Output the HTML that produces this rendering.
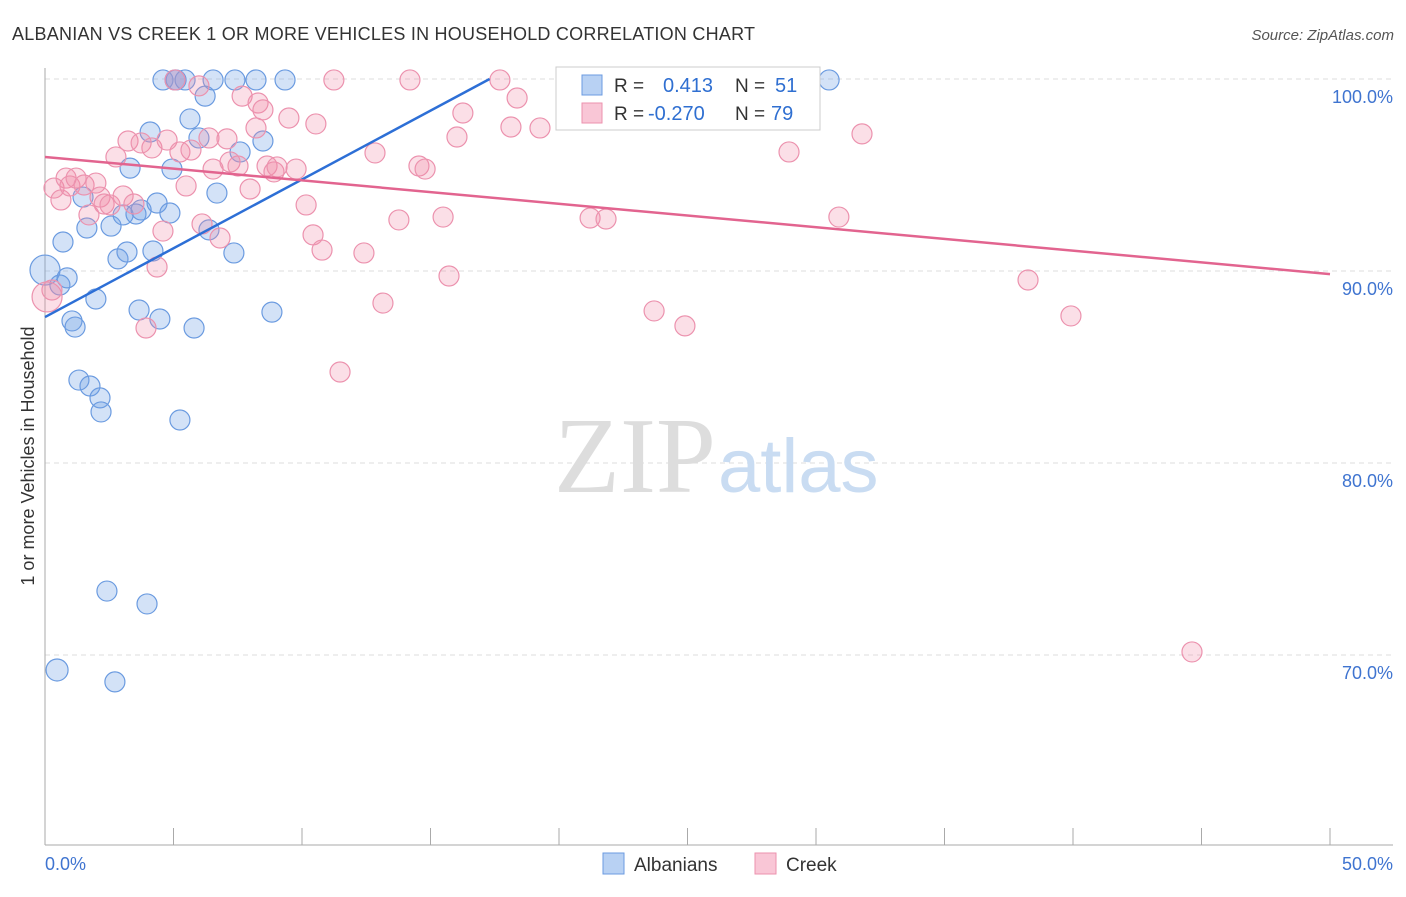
<!DOCTYPE html>
<html><head><meta charset="utf-8"><style>
body{margin:0;background:#fff;font-family:"Liberation Sans",sans-serif}
</style></head><body>
<svg id="c" width="1406" height="892" xmlns="http://www.w3.org/2000/svg" style="font-family:'Liberation Sans',sans-serif">
<text x="12" y="40" font-size="18" fill="#333" textLength="743">ALBANIAN VS CREEK 1 OR MORE VEHICLES IN HOUSEHOLD CORRELATION CHART</text>
<text x="1394" y="40" font-size="15" fill="#555" text-anchor="end" font-style="italic">Source: ZipAtlas.com</text>
<text x="34" y="456" font-size="18" fill="#333" text-anchor="middle" transform="rotate(-90 34 456)">1 or more Vehicles in Household</text>
<g id="grid"></g>
<text x="716" y="492" font-size="108" fill="#ddd" font-family="Liberation Serif" text-anchor="end">ZIP</text>
<text x="718" y="492" font-size="76" fill="#c9dcf2">atlas</text>
<g id="pts"></g><g id="lines"></g>
<g>
<rect x="556" y="67" width="264" height="63" fill="#fff" stroke="#ccc"/>
<rect x="582" y="75" width="20" height="20" fill="#b8d1f3" stroke="#6b9be0"/>
<rect x="582" y="103" width="20" height="20" fill="#f9c6d6" stroke="#ec92ae"/>
<text x="614" y="92" font-size="19" fill="#333">R = </text><text x="663" y="92" font-size="20" fill="#2f6fd1">0.413</text>
<text x="735" y="92" font-size="19" fill="#333">N = </text><text x="775" y="92" font-size="20" fill="#2f6fd1">51</text>
<text x="614" y="120" font-size="19" fill="#333">R = </text><text x="648" y="120" font-size="20" fill="#2f6fd1">-0.270</text>
<text x="735" y="120" font-size="19" fill="#333">N = </text><text x="771" y="120" font-size="20" fill="#2f6fd1">79</text>
</g>
<g>
<rect x="603" y="853" width="21" height="21" fill="#b8d1f3" stroke="#6b9be0"/>
<text x="634" y="871" font-size="19" fill="#333">Albanians</text>
<rect x="755" y="853" width="21" height="21" fill="#f9c6d6" stroke="#ec92ae"/>
<text x="786" y="871" font-size="19" fill="#333">Creek</text>
</g>
</svg>
<script>
const yTicks=[100,90,80,70];
const yTickLabels=["100.0%","90.0%","80.0%","70.0%"];
const xTicks=[0,5,10,15,20,25,30,35,40,45,50];
const blueX=[0,0.47,0.58,0.86,0.70,1.05,1.17,1.32,1.48,1.63,1.75,1.98,2.14,2.18,2.41,2.57,2.72,2.84,3.04,3.19,3.31,3.54,3.66,3.74,3.97,4.09,4.20,4.36,4.47,4.59,4.86,4.94,5.10,5.25,5.45,5.64,5.80,5.99,6.23,6.38,6.54,6.69,7.35,7.39,7.59,8.21,8.48,8.83,9.34,30.51,5.06];
const blueY=[90.05,69.22,89.27,89.64,91.51,87.40,87.08,84.32,93.85,92.24,84.01,88.54,83.39,82.66,73.33,92.34,68.60,90.63,92.92,90.99,95.36,92.97,87.97,93.18,72.66,97.24,91.04,93.54,87.50,99.95,93.02,95.31,99.95,82.24,99.95,97.92,87.03,96.93,99.11,92.14,99.95,94.06,90.94,99.95,96.20,99.95,96.77,87.86,99.95,99.95,99.95];
const pinkX=[0.08,0.27,0.35,0.62,0.82,0.97,1.21,1.52,1.71,1.98,2.14,2.30,2.53,2.76,3.04,3.23,3.46,3.74,3.93,4.16,4.36,4.59,4.75,5.06,5.25,5.49,5.68,5.99,6.11,6.38,6.54,6.81,7.08,7.20,7.51,7.67,7.98,8.21,8.29,8.48,8.64,8.91,9.03,9.49,9.77,10.16,10.43,10.54,10.78,11.24,11.48,12.41,12.84,13.15,13.77,14.20,14.55,14.79,15.49,15.72,16.03,16.26,17.70,18.13,18.37,19.26,20.39,21.21,21.83,22.26,23.27,23.70,24.90,28.95,30.89,31.79,38.25,39.92,44.63];
const pinkY=[88.65,89.01,94.32,93.70,94.84,94.43,94.84,94.48,92.92,94.58,93.85,93.49,93.44,95.94,93.91,96.77,93.49,96.67,87.03,96.41,90.21,92.08,96.82,99.95,96.20,94.43,96.30,99.64,92.45,96.93,95.31,91.72,96.88,95.68,95.47,99.11,94.27,97.45,98.75,98.39,95.47,95.16,95.42,97.97,95.31,93.44,91.88,97.66,91.09,99.95,84.74,90.94,96.15,88.33,92.66,99.95,95.47,95.31,92.81,89.74,96.98,98.23,99.95,97.50,99.01,97.45,99.06,92.76,92.71,99.95,98.91,87.92,87.14,96.20,92.81,97.14,89.53,87.66,70.16];
const blueTrend=[[0,87.6],[17.3,100]];
const pinkTrend=[[0,95.94],[50,89.84]];
const NS="http://www.w3.org/2000/svg";
const X=v=>45+v/50*1285, Y=v=>79+(100-v)*19.2;
function mk(t,a,p){const e=document.createElementNS(NS,t);for(const k in a)e.setAttribute(k,a[k]);p.appendChild(e);return e;}
const g=document.getElementById('grid');
yTicks.forEach((t,i)=>{
 const l=mk('line',{x1:45,x2:1393,y1:Y(t),y2:Y(t),stroke:'#ddd','stroke-dasharray':'5,4'},g);
 
 
 const tx=mk('text',{x:1393,y:Y(t)+24,'font-size':18,fill:'#3f74d0','text-anchor':'end'},g);
 tx.textContent=yTickLabels[i];
 
 
});
const ax=mk('line',{x1:45,x2:45,y1:68,y2:845,stroke:'#aaa'},g);


const bx=mk('line',{x1:45,x2:1393,y1:845,y2:845,stroke:'#aaa'},g);


xTicks.forEach(t=>{
 const l=mk('line',{x1:X(t),x2:X(t),y1:828,y2:845,stroke:'#aaa'},g);
 
 
});
const xl0=mk('text',{x:45,y:870,'font-size':18,fill:'#3f74d0'},g);xl0.textContent='0.0%';


const xl1=mk('text',{x:1393,y:870,'font-size':18,fill:'#3f74d0','text-anchor':'end'},g);xl1.textContent='50.0%';


const P=document.getElementById('pts');
function pts(xs,ys,fill,st,name){xs.forEach((x,i)=>{
 const r=(x<0.1)?15:10;
 const c=mk('circle',{cx:X(x),cy:Y(ys[i]),r:(i===1&&name==='albanian-point')?11:r,fill:fill,stroke:st,'stroke-width':1.2},P);
 
 
});}
pts(blueX,blueY,'rgba(110,160,230,0.3)','#6b9be0','albanian-point');
pts(pinkX,pinkY,'rgba(240,140,170,0.28)','#ec92ae','creek-point');
const L=document.getElementById('lines');
const b=mk('line',{x1:X(blueTrend[0][0]),y1:Y(blueTrend[0][1]),x2:X(blueTrend[1][0]),y2:Y(blueTrend[1][1]),stroke:'#2d6fd6','stroke-width':2.5},L);


const p=mk('line',{x1:X(pinkTrend[0][0]),y1:Y(pinkTrend[0][1]),x2:X(pinkTrend[1][0]),y2:Y(pinkTrend[1][1]),stroke:'#e2648f','stroke-width':2.5},L);


</script>
</body></html>
